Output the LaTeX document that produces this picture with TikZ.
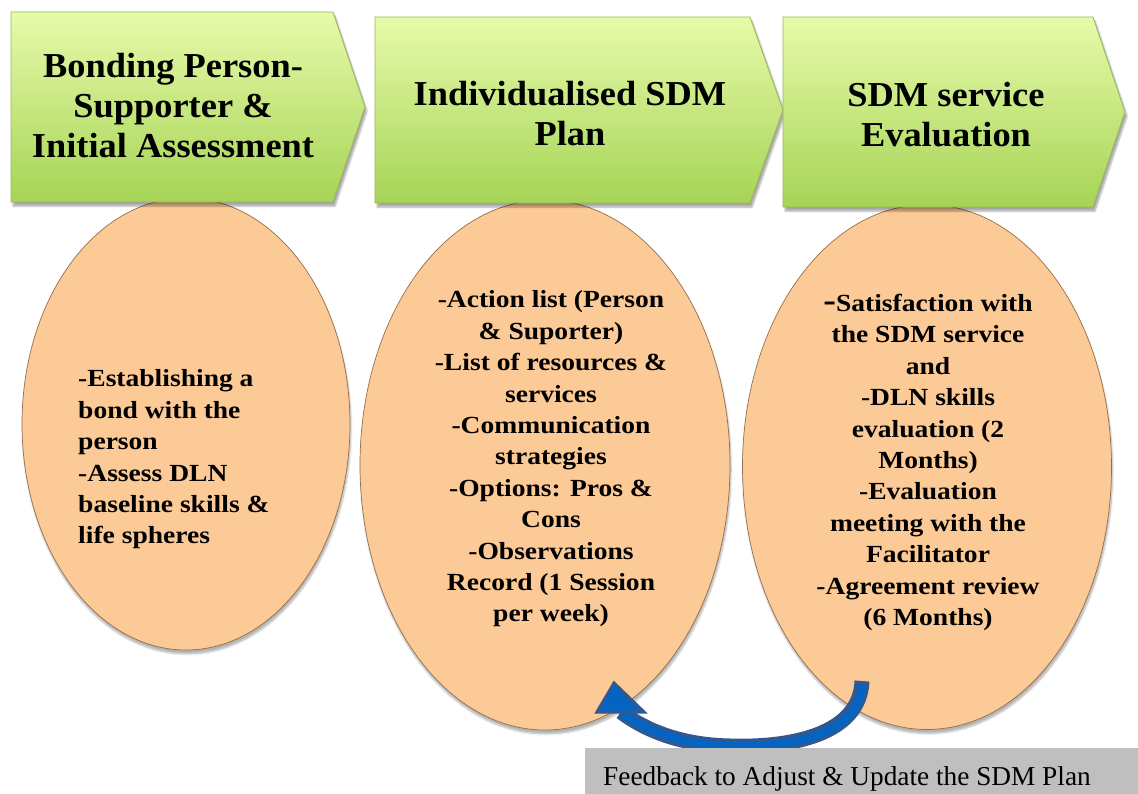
\documentclass[tikz,border=0pt]{standalone}
\usepackage{fontspec}
\setmainfont{Liberation Serif}
\newfontfamily\ellfont{Liberation Serif}[FakeStretch=1.12]
\newfontfamily\headfont{Liberation Serif}[FakeStretch=1.04]
\usetikzlibrary{shapes.geometric,shadows.blur}

\definecolor{chevtop}{RGB}{231,250,170}
\definecolor{chevbot}{RGB}{166,212,86}
\definecolor{chevedge}{RGB}{150,185,85}
\definecolor{peach}{RGB}{252,202,150}
\definecolor{peachedge}{RGB}{150,110,75}
\definecolor{fbblue}{RGB}{5,99,193}
\definecolor{fbdark}{RGB}{50,88,145}
\definecolor{fbgray}{RGB}{191,191,191}

\begin{document}
\begin{tikzpicture}[x=1pt,y=-1pt,
  chevron/.style={top color=chevtop,bottom color=chevbot,draw=chevedge,
    line width=0.8pt,line join=miter,
    blur shadow={shadow xshift=2pt,shadow yshift=-4pt,shadow opacity=35,shadow blur steps=6}},
  stage/.style={ellipse,inner sep=0pt,fill=peach,draw=peachedge,line width=0.7pt,
    blur shadow={shadow xshift=1pt,shadow yshift=-4pt,shadow opacity=30,shadow blur steps=6}},
  headtext/.style={inner sep=0pt,align=center,
    font=\headfont\fontsize{35}{40}\selectfont\bfseries},
  listtext/.style={inner sep=0pt,align=center,
    font=\ellfont\fontsize{24.6}{31.4}\selectfont\bfseries},
  fbband/.style={line width=15pt,draw=fbdark},
  fbcore/.style={line width=8pt,draw=fbblue},
  fbtip/.style={fill=fbblue,draw=fbdark,line width=3pt,line join=miter},
  fbbox/.style={fill=fbgray,draw=none,inner sep=0pt,anchor=north west},
  fblabel/.style={inner sep=0pt,anchor=base west,font=\fontsize{27.3}{30}\selectfont}
]
\useasboundingbox (0,0) rectangle (1138,794);

% the three stage ovals
\node[stage,minimum width=328pt,minimum height=452pt] (ovalA) at (186,424) {};
\node[stage,minimum width=370pt,minimum height=530pt] (ovalB) at (545,465) {};
\node[stage,minimum width=369pt,minimum height=525pt] (ovalC) at (927,467) {};

% the three chevron headers
\path[chevron] (11,12) -- (333,12) -- (365,107) -- (333,202) -- (11,202) -- cycle;
\path[chevron] (375,17) -- (750,17) -- (783,110) -- (750,203) -- (375,203) -- cycle;
\path[chevron] (783,17) -- (1093,17) -- (1125,112) -- (1093,207) -- (783,207) -- cycle;

\node[headtext] (headA) at (173,106) {Bonding Person-\\Supporter \&\\Initial Assessment};
\node[headtext] (headB) at (570,113.5) {Individualised SDM\\Plan};
\node[headtext] (headC) at (946,115) {SDM service\\Evaluation};

% contents of the ovals
\node[listtext,align=left,anchor=west] (listA) at (78,459.5)
  {-Establishing a\\bond with the\\person\\-Assess DLN\\baseline skills \&\\life spheres};
\node[listtext] (listB) at (551,459)
  {-Action list (Person\\\& Suporter)\\-List of resources \&\\services\\-Communication\\strategies\\-Options: Pros \&\\Cons\\-Observations\\Record (1 Session\\per week)};
\node[listtext] (listC) at (928,462.5)
  {{\fontsize{34}{31.4}\selectfont -}Satisfaction with\\the SDM service\\and\\-DLN skills\\evaluation (2\\Months)\\-Evaluation\\meeting with the\\Facilitator\\-Agreement review\\(6 Months)};

% feedback loop from evaluation back to the plan
\coordinate (fbTail) at (862,681);
\coordinate (fbBase) at (621,712);
\coordinate (fbTip) at (614,683);
\draw[fbband] (fbTail) .. controls (860,735) and (790,748) .. (730,746)
  .. controls (680,745) and (645,730) .. (fbBase);
\draw[fbcore,shorten <=3.5pt] (fbTail) .. controls (860,735) and (790,748) .. (730,746)
  .. controls (680,745) and (645,730) .. (fbBase);
\path[fbtip] (fbTip) -- (597,712) -- (644,712) -- cycle;

% caption box
\node[fbbox,minimum width=553pt,minimum height=46pt] (fbBox) at (585,748) {};
\node[fblabel] (fbText) at (603,785) {Feedback to Adjust \& Update the SDM Plan};
\end{tikzpicture}
\end{document}
